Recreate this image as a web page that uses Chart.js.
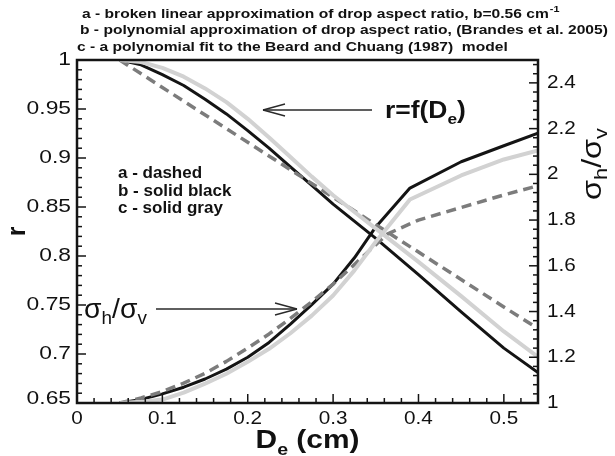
<!DOCTYPE html>
<html>
<head>
<meta charset="utf-8">
<script src="https://cdn.jsdelivr.net/npm/chart.js@4.4.0/dist/chart.umd.min.js"></script>
<style>
body{margin:0;background:#fff}
canvas{display:block}
</style>
</head>
<body>
<canvas id="chart" width="615" height="456"></canvas>
<script>
// equivolume diameter De (cm) and drop aspect ratio r, three models
var dDashR=[0.05,0.1,0.2,0.3,0.4,0.5,0.54];
var rDash=[1.0,0.972,0.916,0.860,0.804,0.748,0.726];
var dCurve=[0.05,0.075,0.1,0.125,0.15,0.175,0.2,0.225,0.25,0.275,0.3,0.35,0.4,0.45,0.5,0.54];
var rBlack=[1.0,0.995,0.985,0.974,0.96,0.945,0.928,0.91,0.891,0.872,0.853,0.818,0.781,0.743,0.706,0.681];
var rGray=[1.0,0.998,0.992,0.983,0.971,0.957,0.94,0.921,0.901,0.881,0.862,0.828,0.794,0.759,0.723,0.697];

// sigma_h / sigma_v for the same three models
var dSigDash=[0.05,0.075,0.1,0.125,0.15,0.175,0.2,0.225,0.25,0.275,0.3,0.364,0.4,0.45,0.5,0.54];
var sigDash=[1.0,1.022,1.05,1.087,1.13,1.182,1.24,1.302,1.37,1.443,1.52,1.74,1.80,1.855,1.91,1.95];
var dSig=[0.05,0.075,0.1,0.125,0.15,0.175,0.2,0.225,0.25,0.275,0.3,0.325,0.35,0.39,0.45,0.5,0.54];
var sigBlack=[1.0,1.015,1.04,1.069,1.105,1.148,1.2,1.265,1.345,1.43,1.52,1.635,1.77,1.94,2.055,2.125,2.18];
var sigGray=[1.0,1.005,1.015,1.045,1.085,1.128,1.18,1.237,1.305,1.382,1.47,1.58,1.705,1.89,1.995,2.065,2.105];

var xTicks=[0,0.1,0.2,0.3,0.4,0.5];
var rTicks=[0.65,0.7,0.75,0.8,0.85,0.9,0.95,1];
var sTicks=[1,1.2,1.4,1.6,1.8,2,2.2,2.4];

var BLACK='#141414', GRAY='#d2d2d2', DASH='#7c7c7c';
var FONT='"Liberation Sans", Arial, sans-serif';

function pts(xs,ys){
    var out=[];
    for(var i=0;i<xs.length;i++) out.push({x:xs[i],y:ys[i]});
    return out;
}

function setTicks(list){
    return function(scale){ scale.ticks=list.map(function(v){return {value:v};}); };
}

function line(c,x1,y1,x2,y2){
    c.beginPath(); c.moveTo(x1,y1); c.lineTo(x2,y2); c.stroke();
}

// draw a run of text pieces (for subscripts)
function runs(c,parts,x,y,sx){
    parts.forEach(function(p){
        c.font=p.f;
        c.save(); c.translate(x,y+(p.dy||0)); c.scale(sx,1); c.fillText(p.t,0,0); c.restore();
        x+=c.measureText(p.t).width*sx;
    });
    return x;
}

function widthOf(c,parts,sx){
    var w=0;
    parts.forEach(function(p){ c.font=p.f; w+=c.measureText(p.t).width*sx; });
    return w;
}

function txt(c,s,x,y,font,align,sx){
    c.save(); c.font=font; c.textAlign=align||'left';
    c.translate(x,y); c.scale(sx||1,1); c.fillText(s,0,0); c.restore();
}

function arrow(c,x1,y,x2){
    var dir=x2>x1?-1:1;
    c.save(); c.strokeStyle='#2a2a2a'; c.lineWidth=1.3;
    line(c,x1,y,x2,y);
    line(c,x2,y,x2+dir*22,y-6);
    line(c,x2,y,x2+dir*22,y+6);
    c.restore();
}

var decor={
    id:'decor',
    afterDatasetsDraw:function(chart){
        var c=chart.ctx, a=chart.chartArea;
        var sx=chart.scales.x, sr=chart.scales.yLeft, ss=chart.scales.yRight;
        var i,p,len;
        c.save();
        c.strokeStyle=BLACK; c.lineWidth=1.5;
        // ticks point into the plot, long on labelled values
        for(i=0;i<=27;i++){
            p=sx.getPixelForValue(i*0.02); len=(i%5==0)?9:5;
            line(c,p,a.bottom,p,a.bottom-len);
        }
        for(i=0;i<=35;i++){
            p=sr.getPixelForValue(0.65+i*0.01); len=(i%5==0)?9:5;
            line(c,a.left,p,a.left+len,p);
        }
        for(i=0;i<=37;i++){
            p=ss.getPixelForValue(1+i*0.04); len=(i%5==0)?9:5;
            line(c,a.right,p,a.right-len,p);
        }
        c.lineWidth=2.5;
        c.strokeRect(a.left,a.top,a.right-a.left,a.bottom-a.top);
        c.restore();
    },
    afterDraw:function(chart){
        var c=chart.ctx, a=chart.chartArea;
        var sx=chart.scales.x, sr=chart.scales.yLeft, ss=chart.scales.yRight;
        c.save();
        c.fillStyle='#111';
        c.textBaseline='alphabetic';

        // tick labels
        xTicks.forEach(function(v){
            txt(c,String(+v.toFixed(2)),sx.getPixelForValue(v),a.bottom+21,'18px '+FONT,'center',1.15);
        });
        c.textBaseline='middle';
        rTicks.forEach(function(v){
            var y=sr.getPixelForValue(v);
            if(v==0.65) y-=4;
            txt(c,String(+v.toFixed(2)),a.left-6,y,'19px '+FONT,'right',1.2);
        });
        sTicks.forEach(function(v){
            txt(c,String(+v.toFixed(1)),a.right+9,ss.getPixelForValue(v),'18px '+FONT,'left',1.15);
        });
        c.textBaseline='alphabetic';

        // model descriptions above the plot
        var hf='bold 13px '+FONT, HX=1.2;
        var l1='a - broken linear approximation of drop aspect ratio, b=0.56 cm';
        var end1=runs(c,[{t:l1,f:hf}],82,18,HX);
        runs(c,[{t:'-1',f:'bold 9px '+FONT}],end1+1,12,HX);
        runs(c,[{t:'b - polynomial approximation of drop aspect ratio, (Brandes et al. 2005)',f:hf}],80,34,HX);
        runs(c,[{t:'c - a polynomial fit to the Beard and Chuang (1987)  model',f:hf}],77,51,HX);

        // line style key
        c.font='bold 17px '+FONT;
        c.fillText('a - dashed',118,178);
        c.fillText('b - solid black',118,196);
        c.fillText('c - solid gray',118,213);

        // curve callouts
        runs(c,[{t:'r=f(D',f:'bold 23px '+FONT},{t:'e',f:'bold 15px '+FONT,dy:6},{t:')',f:'bold 23px '+FONT}],385,118,1.15);
        arrow(c,372,110,263);
        runs(c,[{t:'\u03c3',f:'27px '+FONT},{t:'h',f:'18px '+FONT,dy:6},{t:'/',f:'27px '+FONT},{t:'\u03c3',f:'27px '+FONT},{t:'v',f:'18px '+FONT,dy:6}],84,318,1.05);
        arrow(c,156,309,297);

        // axis titles
        var xt=[{t:'D',f:'bold 26px '+FONT},{t:'e',f:'bold 17px '+FONT,dy:7},{t:' (cm)',f:'bold 26px '+FONT}];
        var xw=widthOf(c,xt,1.15);
        runs(c,xt,(a.left+a.right)/2-xw/2,448,1.15);

        c.save();
        c.translate(25,(a.top+a.bottom)/2); c.rotate(-Math.PI/2);
        c.font='bold 25px '+FONT; c.textAlign='center'; c.fillText('r',0,0);
        c.restore();

        var st=[{t:'\u03c3',f:'28px '+FONT},{t:'h',f:'19px '+FONT,dy:6},{t:'/',f:'28px '+FONT},{t:'\u03c3',f:'28px '+FONT},{t:'v',f:'19px '+FONT,dy:6}];
        var sw=widthOf(c,st,1.15);
        c.save();
        c.translate(601,164); c.rotate(-Math.PI/2);
        runs(c,st,-sw/2,0,1.15);
        c.restore();

        c.restore();
    }
};

var ctx=document.getElementById('chart');
var chart=new Chart(ctx,{
    type:'line',
    data:{
        datasets:[
            {data:pts(dCurve,rGray),yAxisID:'yLeft',borderColor:GRAY,borderWidth:4},
            {data:pts(dSig,sigGray),yAxisID:'yRight',borderColor:GRAY,borderWidth:4},
            {data:pts(dDashR,rDash),yAxisID:'yLeft',borderColor:DASH,borderWidth:3.5,borderDash:[10,6]},
            {data:pts(dSigDash,sigDash),yAxisID:'yRight',borderColor:DASH,borderWidth:3.5,borderDash:[10,6]},
            {data:pts(dCurve,rBlack),yAxisID:'yLeft',borderColor:BLACK,borderWidth:3},
            {data:pts(dSig,sigBlack),yAxisID:'yRight',borderColor:BLACK,borderWidth:3}
        ]
    },
    options:{
        responsive:false,
        animation:false,
        layout:{padding:{top:60,left:0,right:0,bottom:0}},
        plugins:{legend:{display:false},tooltip:{enabled:false},title:{display:false}},
        elements:{
            point:{radius:0,hoverRadius:0},
            line:{tension:0,fill:false,borderCapStyle:'butt',borderJoinStyle:'round'}
        },
        scales:{
            x:{
                type:'linear',min:0,max:0.54,
                afterBuildTicks:setTicks(xTicks),
                ticks:{display:false},
                grid:{display:false,drawTicks:false},
                border:{display:false},
                afterFit:function(s){s.height=53;}
            },
            yLeft:{
                type:'linear',axis:'y',position:'left',min:0.65,max:1,
                afterBuildTicks:setTicks(rTicks),
                ticks:{display:false},
                grid:{display:false,drawTicks:false},
                border:{display:false},
                afterFit:function(s){s.width=77;}
            },
            yRight:{
                type:'linear',axis:'y',position:'right',min:1,max:2.5,
                afterBuildTicks:setTicks(sTicks),
                ticks:{display:false},
                grid:{display:false,drawTicks:false},
                border:{display:false},
                afterFit:function(s){s.width=77;}
            }
        }
    },
    plugins:[decor]
});
</script>
</body>
</html>
